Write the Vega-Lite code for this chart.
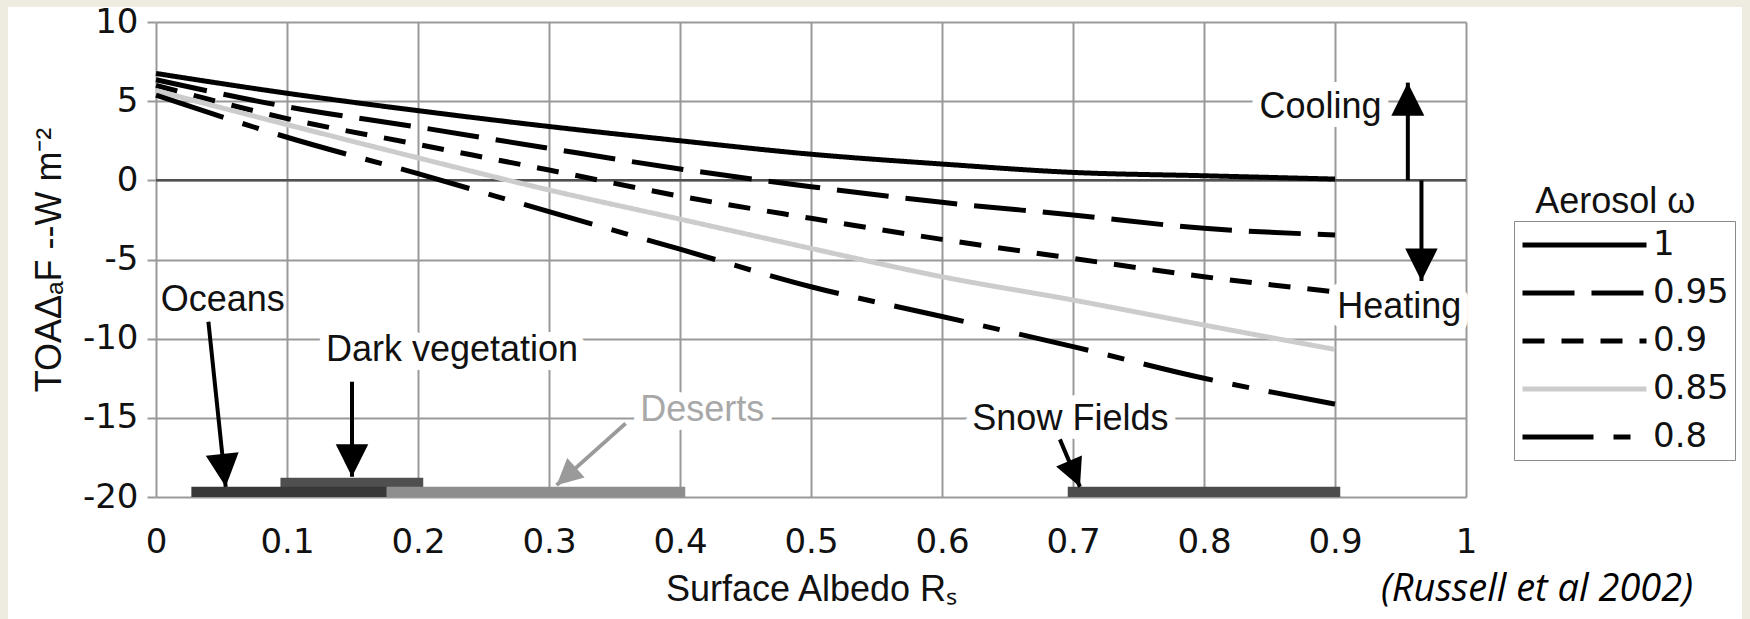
{
  "$schema": "https://vega.github.io/schema/vega-lite/v6.json",
  "width": 1310,
  "height": 475,
  "autosize": {"type": "none"},
  "padding": {"left": 156, "top": 22, "right": 284, "bottom": 122},
  "background": "white",
  "title": {
    "text": "(Russell et al 2002)",
    "orient": "bottom",
    "anchor": "end",
    "frame": "group",
    "font": "Open Sans",
    "fontStyle": "italic",
    "fontWeight": "normal",
    "fontSize": 38,
    "color": "#000000",
    "dx": 227,
    "offset": -99
  },
  "datasets": {
    "lines": [
      {"omega": "1", "albedo": 0, "flux": 6.75},
      {"omega": "1", "albedo": 0.1, "flux": 5.5},
      {"omega": "1", "albedo": 0.2, "flux": 4.4},
      {"omega": "1", "albedo": 0.3, "flux": 3.4},
      {"omega": "1", "albedo": 0.4, "flux": 2.5},
      {"omega": "1", "albedo": 0.5, "flux": 1.65},
      {"omega": "1", "albedo": 0.6, "flux": 1.03},
      {"omega": "1", "albedo": 0.7, "flux": 0.5},
      {"omega": "1", "albedo": 0.8, "flux": 0.29},
      {"omega": "1", "albedo": 0.9, "flux": 0.08},
      {"omega": "0.95", "albedo": 0, "flux": 6.35},
      {"omega": "0.95", "albedo": 0.1, "flux": 4.65},
      {"omega": "0.95", "albedo": 0.2, "flux": 3.36},
      {"omega": "0.95", "albedo": 0.3, "flux": 2.02},
      {"omega": "0.95", "albedo": 0.4, "flux": 0.72},
      {"omega": "0.95", "albedo": 0.5, "flux": -0.4},
      {"omega": "0.95", "albedo": 0.6, "flux": -1.39},
      {"omega": "0.95", "albedo": 0.7, "flux": -2.19},
      {"omega": "0.95", "albedo": 0.8, "flux": -3.03},
      {"omega": "0.95", "albedo": 0.9, "flux": -3.45},
      {"omega": "0.9", "albedo": 0, "flux": 6.0},
      {"omega": "0.9", "albedo": 0.1, "flux": 3.9},
      {"omega": "0.9", "albedo": 0.2, "flux": 2.27},
      {"omega": "0.9", "albedo": 0.3, "flux": 0.65},
      {"omega": "0.9", "albedo": 0.4, "flux": -1.0},
      {"omega": "0.9", "albedo": 0.5, "flux": -2.4},
      {"omega": "0.9", "albedo": 0.6, "flux": -3.73},
      {"omega": "0.9", "albedo": 0.7, "flux": -4.93},
      {"omega": "0.9", "albedo": 0.8, "flux": -6.09},
      {"omega": "0.9", "albedo": 0.9, "flux": -7.04},
      {"omega": "0.85", "albedo": 0, "flux": 5.66},
      {"omega": "0.85", "albedo": 0.1, "flux": 3.52},
      {"omega": "0.85", "albedo": 0.2, "flux": 1.42},
      {"omega": "0.85", "albedo": 0.3, "flux": -0.61},
      {"omega": "0.85", "albedo": 0.4, "flux": -2.45},
      {"omega": "0.85", "albedo": 0.5, "flux": -4.3},
      {"omega": "0.85", "albedo": 0.6, "flux": -6.09},
      {"omega": "0.85", "albedo": 0.7, "flux": -7.56},
      {"omega": "0.85", "albedo": 0.8, "flux": -9.14},
      {"omega": "0.85", "albedo": 0.9, "flux": -10.68},
      {"omega": "0.8", "albedo": 0, "flux": 5.38},
      {"omega": "0.8", "albedo": 0.1, "flux": 2.72},
      {"omega": "0.8", "albedo": 0.2, "flux": 0.42},
      {"omega": "0.8", "albedo": 0.3, "flux": -1.98},
      {"omega": "0.8", "albedo": 0.4, "flux": -4.35},
      {"omega": "0.8", "albedo": 0.5, "flux": -6.72},
      {"omega": "0.8", "albedo": 0.6, "flux": -8.6},
      {"omega": "0.8", "albedo": 0.7, "flux": -10.5},
      {"omega": "0.8", "albedo": 0.8, "flux": -12.5},
      {"omega": "0.8", "albedo": 0.9, "flux": -14.13}
    ],
    "surfaces": [
      {"surface": "Dark vegetation", "lo": 0.095, "hi": 0.204, "top": -18.79},
      {"surface": "Oceans", "lo": 0.027, "hi": 0.176, "top": -19.36},
      {"surface": "Deserts", "lo": 0.176, "hi": 0.404, "top": -19.36},
      {"surface": "Snow Fields", "lo": 0.696, "hi": 0.904, "top": -19.36}
    ],
    "arrows": [
      {"name": "Oceans", "x0": 0.040, "y0": -8.93, "x1": 0.0532, "y1": -19.36},
      {"name": "Dark vegetation", "x0": 0.1496, "y0": -12.72, "x1": 0.1496, "y1": -18.72},
      {"name": "Deserts", "x0": 0.3585, "y0": -15.35, "x1": 0.3058, "y1": -19.25},
      {"name": "Snow Fields", "x0": 0.690, "y0": -16.36, "x1": 0.7053, "y1": -19.36},
      {"name": "Cooling", "x0": 0.9556, "y0": 0, "x1": 0.9556, "y1": 6.17},
      {"name": "Heating", "x0": 0.966, "y0": 0, "x1": 0.966, "y1": -6.36}
    ],
    "labels": [
      {"label": "Oceans", "x": 0.051, "y": -8.25},
      {"label": "Dark vegetation", "x": 0.226, "y": -11.41},
      {"label": "Deserts", "x": 0.417, "y": -15.2},
      {"label": "Snow Fields", "x": 0.698, "y": -15.77},
      {"label": "Cooling", "x": 0.889, "y": 3.94},
      {"label": "Heating", "x": 0.949, "y": -8.69},
      {"label": "Aerosol ω", "x": 1.114, "y": -2.06}
    ]
  },
  "config": {
    "view": {"stroke": null},
    "axis": {
      "grid": true,
      "gridColor": "#999999",
      "gridWidth": 2,
      "gridOpacity": 1,
      "domain": false,
      "labelColor": "#111111",
      "titleColor": "#111111",
      "labelFont": "DejaVu Sans",
      "labelFontSize": 34,
      "titleFont": "Liberation Sans",
      "titleFontSize": 36,
      "titleFontWeight": "normal"
    }
  },
  "layer": [
    {
      "data": {"values": [{}]},
      "mark": {"type": "rect", "fill": "transparent", "stroke": "#EEECE1", "strokeWidth": 30},
      "encoding": {
        "x": {"datum": -0.1244, "type": "quantitative", "scale": {"domain": [0, 1], "nice": false, "zero": false}},
        "x2": {"datum": 1.2221},
        "y": {"datum": 11.895, "type": "quantitative", "scale": {"domain": [-20, 10], "nice": false, "zero": false}},
        "y2": {"datum": -30}
      }
    },
    {
      "data": {"values": [{}]},
      "mark": {"type": "rule", "color": "#505050", "strokeWidth": 2.5},
      "encoding": {
        "y": {"datum": 0, "type": "quantitative"}
      }
    },
    {
      "data": {"name": "labels"},
      "transform": [{"filter": "datum.label !== 'Oceans' && datum.label !== 'Aerosol ω'"}],
      "mark": {"type": "text", "font": "Liberation Sans", "fontSize": 36, "baseline": "alphabetic", "align": "center", "fill": "white", "stroke": "white", "strokeWidth": 18, "strokeJoin": "round"},
      "encoding": {
        "x": {"field": "x", "type": "quantitative"},
        "y": {"field": "y", "type": "quantitative"},
        "text": {"field": "label"}
      }
    },
    {
      "data": {"name": "surfaces"},
      "mark": {"type": "rect"},
      "encoding": {
        "x": {"field": "lo", "type": "quantitative"},
        "x2": {"field": "hi"},
        "y": {"field": "top", "type": "quantitative"},
        "y2": {"datum": -20},
        "fill": {
          "field": "surface",
          "type": "nominal",
          "legend": null,
          "scale": {"domain": ["Oceans", "Dark vegetation", "Deserts", "Snow Fields"], "range": ["#383838", "#4f4f4f", "#8e8e8e", "#4c4c4c"]}
        }
      }
    },
    {
      "data": {"name": "lines"},
      "mark": {"type": "line", "strokeWidth": 5, "interpolate": "monotone", "strokeCap": "butt"},
      "encoding": {
        "x": {
          "field": "albedo",
          "type": "quantitative",
          "scale": {"domain": [0, 1], "nice": false, "zero": false},
          "axis": {
            "title": "Surface Albedo Rₛ",
            "grid": true,
            "values": [0, 0.1, 0.2, 0.3, 0.4, 0.5, 0.6, 0.7, 0.8, 0.9, 1],
            "format": ".1~f",
            "ticks": false,
            "labelPadding": 28,
            "titlePadding": 13,
            "labelFlush": false,
            "labelOverlap": false
          }
        },
        "y": {
          "field": "flux",
          "type": "quantitative",
          "scale": {"domain": [-20, 10], "nice": false, "zero": false},
          "axis": {
            "title": "TOAΔₐF --W m⁻²",
            "grid": true,
            "values": [-20, -15, -10, -5, 0, 5, 10],
            "labelExpr": "replace(datum.label, '−', '-')",
            "tickSize": 9,
            "tickWidth": 2,
            "tickColor": "#999999",
            "labelPadding": 9,
            "titlePadding": 14,
            "labelFlush": false,
            "labelOverlap": false
          }
        },
        "detail": {"field": "omega"},
        "color": {
          "field": "omega",
          "type": "nominal",
          "sort": null,
          "scale": {"domain": ["1", "0.95", "0.9", "0.85", "0.8"], "range": ["#000000", "#000000", "#000000", "#cccccc", "#000000"]},
          "legend": {
            "title": null,
            "orient": "none",
            "legendX": 1358,
            "legendY": 199,
            "symbolType": "M-1,0L7,0",
            "symbolSize": 961,
            "symbolStrokeWidth": 5,
            "labelOffset": 97,
            "labelFont": "DejaVu Sans",
            "labelFontSize": 34,
            "labelColor": "#111111",
            "labelLimit": 400,
            "strokeColor": "#8a8a8a",
            "padding": 6,
            "rowPadding": 13
          }
        },
        "strokeDash": {
          "field": "omega",
          "type": "nominal",
          "sort": null,
          "scale": {"domain": ["1", "0.95", "0.9", "0.85", "0.8"], "range": [[1, 0], [52, 17], [22, 17], [1, 0], [71, 20, 17, 20]]},
          "legend": {
            "title": null,
            "orient": "none",
            "legendX": 1358,
            "legendY": 199,
            "symbolType": "M-1,0L7,0",
            "symbolSize": 961,
            "symbolStrokeWidth": 5,
            "labelOffset": 97,
            "labelFont": "DejaVu Sans",
            "labelFontSize": 34,
            "labelColor": "#111111",
            "labelLimit": 400,
            "strokeColor": "#8a8a8a",
            "padding": 6,
            "rowPadding": 13
          }
        }
      }
    },
    {
      "data": {"name": "arrows"},
      "mark": {"type": "rule", "strokeWidth": 4, "strokeCap": "butt"},
      "encoding": {
        "x": {"field": "x0", "type": "quantitative"},
        "y": {"field": "y0", "type": "quantitative"},
        "x2": {"field": "x1"},
        "y2": {"field": "y1"},
        "color": {"condition": {"test": "datum.name === 'Deserts'", "value": "#9a9a9a"}, "value": "#000000"}
      }
    },
    {
      "data": {"name": "arrows"},
      "transform": [{"filter": "datum.name === 'Dark vegetation' || datum.name === 'Heating'"}],
      "mark": {"type": "point", "shape": "M0,0L-1,-2L1,-2Z", "filled": true, "size": 1056, "color": "#000000", "opacity": 1, "angle": 0},
      "encoding": {
        "x": {"field": "x1", "type": "quantitative"},
        "y": {"field": "y1", "type": "quantitative"}
      }
    },
    {
      "data": {"name": "arrows"},
      "transform": [{"filter": "datum.name === 'Oceans'"}],
      "mark": {"type": "point", "shape": "M0,0L-1,-2L1,-2Z", "filled": true, "size": 1089, "color": "#000000", "opacity": 1, "angle": 354},
      "encoding": {
        "x": {"field": "x1", "type": "quantitative"},
        "y": {"field": "y1", "type": "quantitative"}
      }
    },
    {
      "data": {"name": "arrows"},
      "transform": [{"filter": "datum.name === 'Cooling'"}],
      "mark": {"type": "point", "shape": "M0,0L-1,-2L1,-2Z", "filled": true, "size": 1089, "color": "#000000", "opacity": 1, "angle": 180},
      "encoding": {
        "x": {"field": "x1", "type": "quantitative"},
        "y": {"field": "y1", "type": "quantitative"}
      }
    },
    {
      "data": {"name": "arrows"},
      "transform": [{"filter": "datum.name === 'Snow Fields'"}],
      "mark": {"type": "point", "shape": "M0,0L-1,-2L1,-2Z", "filled": true, "size": 784, "color": "#000000", "opacity": 1, "angle": 337},
      "encoding": {
        "x": {"field": "x1", "type": "quantitative"},
        "y": {"field": "y1", "type": "quantitative"}
      }
    },
    {
      "data": {"name": "arrows"},
      "transform": [{"filter": "datum.name === 'Deserts'"}],
      "mark": {"type": "point", "shape": "M0,0L-1,-2L1,-2Z", "filled": true, "size": 676, "color": "#9a9a9a", "opacity": 1, "angle": 48},
      "encoding": {
        "x": {"field": "x1", "type": "quantitative"},
        "y": {"field": "y1", "type": "quantitative"}
      }
    },
    {
      "data": {"name": "labels"},
      "mark": {"type": "text", "font": "Liberation Sans", "fontSize": 36, "baseline": "alphabetic", "align": "center"},
      "encoding": {
        "x": {"field": "x", "type": "quantitative"},
        "y": {"field": "y", "type": "quantitative"},
        "text": {"field": "label"},
        "color": {"condition": {"test": "datum.label === 'Deserts'", "value": "#a8a8a8"}, "value": "#111111"}
      }
    }
  ]
}
